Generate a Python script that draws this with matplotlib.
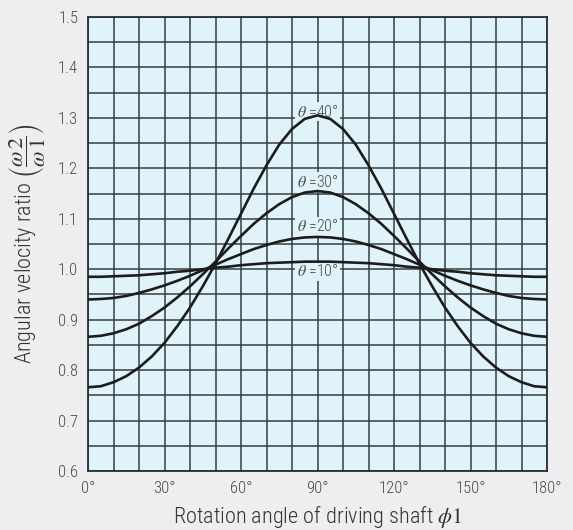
import matplotlib
matplotlib.use("Agg")
import matplotlib.pyplot as plt
from matplotlib import font_manager

# ---- data ----
phi_deg = [0, 5, 10, 15, 20, 25, 30, 35, 40, 45, 50, 55, 60, 65, 70, 75, 80, 85, 90,
           95, 100, 105, 110, 115, 120, 125, 130, 135, 140, 145, 150, 155, 160, 165, 170, 175, 180]

ratio_10 = [0.985, 0.985, 0.986, 0.987, 0.988, 0.990, 0.992, 0.995, 0.997, 1.000, 1.003, 1.005,
            1.008, 1.010, 1.012, 1.013, 1.014, 1.015, 1.015,
            1.015, 1.014, 1.013, 1.012, 1.010, 1.008, 1.005, 1.003, 1.000, 0.997, 0.995, 0.992,
            0.990, 0.988, 0.987, 0.986, 0.985, 0.985]
ratio_20 = [0.940, 0.941, 0.943, 0.947, 0.953, 0.960, 0.968, 0.977, 0.987, 0.998, 1.009, 1.020,
            1.030, 1.040, 1.048, 1.055, 1.060, 1.063, 1.064,
            1.063, 1.060, 1.055, 1.048, 1.040, 1.030, 1.020, 1.009, 0.998, 0.987, 0.977, 0.968,
            0.960, 0.953, 0.947, 0.943, 0.941, 0.940]
ratio_30 = [0.866, 0.868, 0.873, 0.881, 0.892, 0.907, 0.924, 0.944, 0.966, 0.990, 1.015, 1.041,
            1.066, 1.090, 1.111, 1.129, 1.143, 1.152, 1.155,
            1.152, 1.143, 1.129, 1.111, 1.090, 1.066, 1.041, 1.015, 0.990, 0.966, 0.944, 0.924,
            0.907, 0.892, 0.881, 0.873, 0.868, 0.866]
ratio_40 = [0.766, 0.768, 0.776, 0.788, 0.805, 0.827, 0.854, 0.887, 0.924, 0.966, 1.011, 1.060,
            1.110, 1.160, 1.206, 1.247, 1.278, 1.298, 1.305,
            1.298, 1.278, 1.247, 1.206, 1.160, 1.110, 1.060, 1.011, 0.966, 0.924, 0.887, 0.854,
            0.827, 0.805, 0.788, 0.776, 0.768, 0.766]

series = [ratio_10, ratio_20, ratio_30, ratio_40]
curve_labels = ["$\\theta$ =10°", "$\\theta$ =20°", "$\\theta$ =30°", "$\\theta$ =40°"]
label_x = [90, 90, 90, 90]
label_y = [0.996, 1.085, 1.173, 1.312]

x_ticks = [0, 30, 60, 90, 120, 150, 180]
x_ticklabels = ["0°", "30°", "60°", "90°", "120°", "150°", "180°"]
y_ticks = [0.6, 0.7, 0.8, 0.9, 1.0, 1.1, 1.2, 1.3, 1.4, 1.5]
y_ticklabels = ["0.6", "0.7", "0.8", "0.9", "1.0", "1.1", "1.2", "1.3", "1.4", "1.5"]

# ---- style ----
names = {f.name for f in font_manager.fontManager.ttflist}
fam = "Roboto Condensed" if "Roboto Condensed" in names else "Roboto"
plt.rcParams["font.family"] = [fam, "DejaVu Sans"]
plt.rcParams["font.weight"] = 300
plt.rcParams["axes.labelweight"] = 300
plt.rcParams["mathtext.fontset"] = "stix"

fig_bg = "#eeeef0"
ax_bg = "#e0f3fa"
grid_c = "#363e42"
text_c = "#4a4a4a"

fig = plt.figure(figsize=(5.73, 5.30), dpi=100, facecolor=fig_bg)
ax = fig.add_axes([88 / 573, 1 - 471 / 530, 459 / 573, 454 / 530])
ax.set_facecolor(ax_bg)

for ys in series:
    ax.plot(phi_deg, ys, color="#1c1c1c", lw=1.9, zorder=3, solid_capstyle="butt")

for lx, ly, lt in zip(label_x, label_y, curve_labels):
    ax.text(lx, ly, lt, ha="center", va="center", fontsize=11.5, color=text_c, zorder=2.5,
            fontweight=300,
            bbox=dict(boxstyle="square,pad=0.1", facecolor=ax_bg, edgecolor="none"))

ax.set_xlim(0, 180)
ax.set_ylim(0.6, 1.5)
ax.set_xticks(x_ticks)
ax.set_xticklabels(x_ticklabels)
ax.set_yticks(y_ticks)
ax.set_yticklabels(y_ticklabels)
ax.set_xticks(range(0, 181, 10), minor=True)
ax.set_yticks([0.6 + 0.05 * i for i in range(19)], minor=True)
ax.grid(True, which="both", color=grid_c, lw=1.1)
ax.set_axisbelow(True)
ax.tick_params(which="both", length=0, labelsize=12, labelcolor=text_c)
ax.tick_params(axis="x", pad=7)
ax.tick_params(axis="y", pad=7)
for s in ax.spines.values():
    s.set_color("#2a2f33")
    s.set_linewidth(1.3)

ax.set_xlabel("Rotation angle of driving shaft $\\phi\\mathrm{1}$", fontsize=16, color="#333333",
              labelpad=6, fontweight=300)
ax.set_ylabel("Angular velocity ratio $\\left(\\dfrac{\\omega\\,\\mathrm{2}}{\\omega\\,\\mathrm{1}}\\right)$",
              fontsize=16, color="#333333", labelpad=8, fontweight=300)

fig.savefig("out.png", dpi=100, facecolor=fig_bg)
